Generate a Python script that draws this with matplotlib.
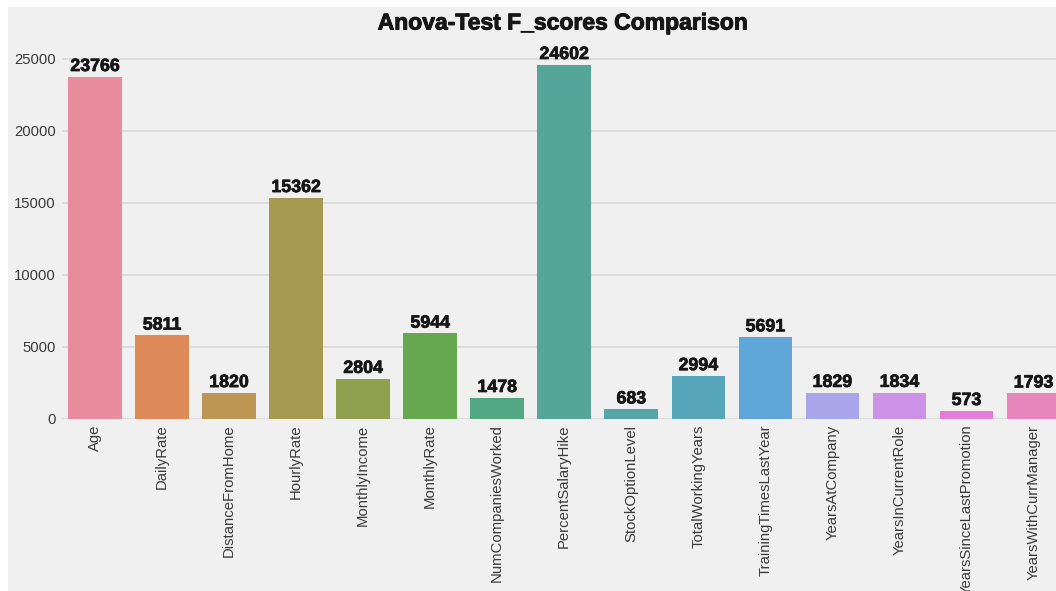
import matplotlib
matplotlib.use("Agg")
import matplotlib.pyplot as plt
import matplotlib.patheffects as pe
from matplotlib.patches import Rectangle
import seaborn as sns

features = ["Age", "DailyRate", "DistanceFromHome", "HourlyRate", "MonthlyIncome",
            "MonthlyRate", "NumCompaniesWorked", "PercentSalaryHike", "StockOptionLevel",
            "TotalWorkingYears", "TrainingTimesLastYear", "YearsAtCompany",
            "YearsInCurrentRole", "YearsSinceLastPromotion", "YearsWithCurrManager"]
f_scores = [23766, 5811, 1820, 15362, 2804, 5944, 1478, 24602, 683, 2994, 5691,
            1829, 1834, 573, 1793]
y_ticks = [0, 5000, 10000, 15000, 20000, 25000]

BG = "#f0f0f0"
GRID = "#dadada"
INK = "#161616"

plt.rcParams["font.family"] = ["Liberation Sans", "DejaVu Sans"]

W, H = 1056, 591
fig = plt.figure(figsize=(W / 100, H / 100), dpi=100, facecolor="white")
fig.patches.append(Rectangle((8 / W, 0), 1, 1 - 7 / H, transform=fig.transFigure,
                             facecolor=BG, edgecolor="none", zorder=-10))

ax = fig.add_axes([61.5 / W, 172 / H, 1005.5 / W, 372 / H])
ax.set_facecolor(BG)

colors = sns.color_palette("husl", len(features), desat=0.75)
# reference bars look a touch lighter
colors = [tuple(c + (1 - c) * 0.08 for c in col) for col in colors]
x = range(len(features))
bars = ax.bar(x, f_scores, width=0.8, color=colors, zorder=2)

heavy = [pe.withStroke(linewidth=0.5, foreground=INK)]
for b, v in zip(bars, f_scores):
    ax.text(b.get_x() + b.get_width() / 2, v + 120, str(v), ha="center", va="bottom",
            fontsize=12.8, fontweight="bold", color=INK, zorder=3, path_effects=heavy)

ax.set_xlim(-0.5, len(features) - 0.5)
ax.set_ylim(0, 25832)
ax.set_yticks(y_ticks)
ax.set_yticklabels([str(t) for t in y_ticks])
ax.set_xticks(list(x))
ax.set_xticklabels(features, rotation=90)
ax.tick_params(axis="both", length=0, labelsize=10.7, labelcolor="#3a3a3a")
ax.tick_params(axis="x", pad=4)
ax.tick_params(axis="y", pad=4)
ax.yaxis.grid(True, color=GRID, linewidth=1.3, zorder=0)
ax.xaxis.grid(False)
ax.set_axisbelow(True)
for s in ax.spines.values():
    s.set_visible(False)

fig.text(562 / W, 1 - 23 / H, "Anova-Test F_scores Comparison", ha="center", va="center",
         fontsize=16.5, fontweight="bold", color=INK,
         path_effects=[pe.withStroke(linewidth=0.7, foreground=INK)])

fig.savefig("out.png", dpi=100, facecolor="white")
